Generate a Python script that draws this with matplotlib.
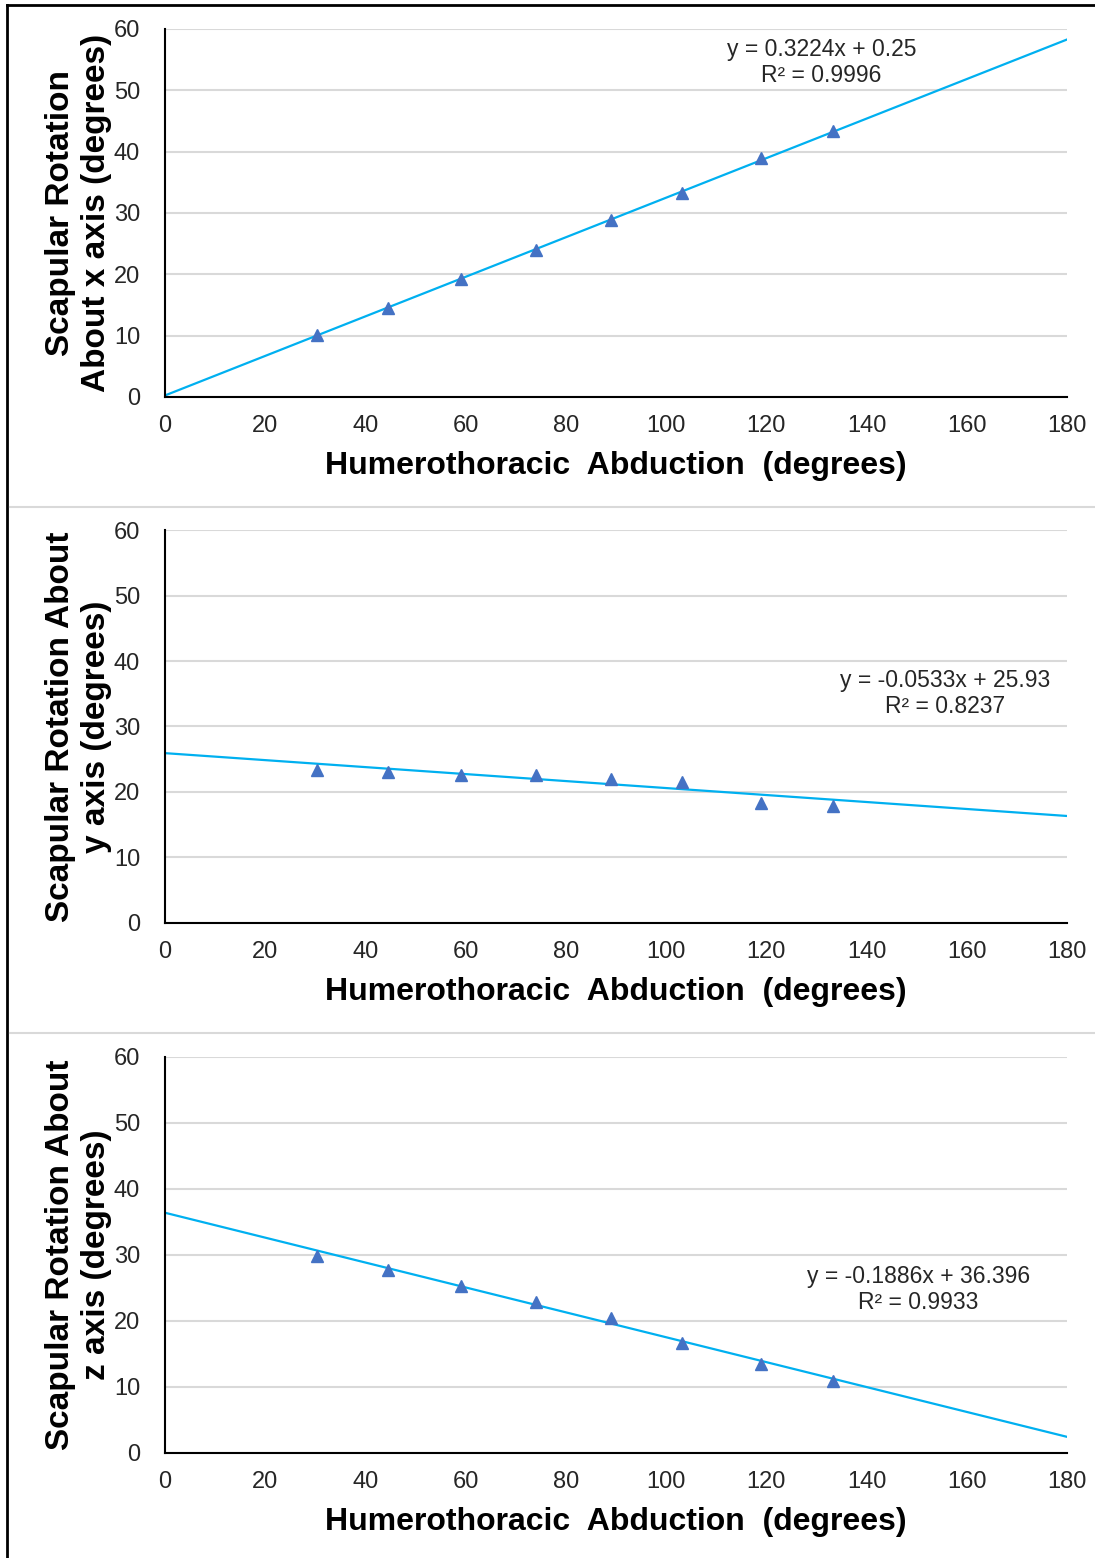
import numpy as np
import matplotlib.pyplot as plt
from matplotlib.lines import Line2D

plt.rcParams['font.family'] = ['Liberation Sans', 'DejaVu Sans']

# humerothoracic abduction (degrees), same for all three panels
abduction = [30.3, 44.5, 59.1, 74.0, 89.0, 103.2, 118.9, 133.3]

rot_x = [10.1, 14.5, 19.2, 24.0, 28.9, 33.3, 39.0, 43.4]
rot_y = [23.4, 23.1, 22.6, 22.6, 22.0, 21.6, 18.3, 17.9]
rot_z = [29.9, 27.7, 25.3, 22.9, 20.5, 16.7, 13.5, 10.9]

slopes = [0.3224, -0.0533, -0.1886]
intercepts = [0.25, 25.93, 36.396]
fit_labels = ["y = 0.3224x + 0.25\nR² = 0.9996",
              "y = -0.0533x + 25.93\nR² = 0.8237",
              "y = -0.1886x + 36.396\nR² = 0.9933"]
ylabels = ["Scapular Rotation\nAbout x axis (degrees)",
           "Scapular Rotation About\ny axis (degrees)",
           "Scapular Rotation About\nz axis (degrees)"]
xlabel = "Humerothoracic  Abduction  (degrees)"

series = [rot_x, rot_y, rot_z]
label_pos = [(131, 54.5), (155.7, 35.0), (150.3, 24.8)]
axes_rects = [[0.1507, 0.7452, 0.8237, 0.2362],
              [0.1507, 0.4076, 0.8237, 0.2522],
              [0.1507, 0.0674, 0.8237, 0.2542]]

fig = plt.figure(figsize=(10.95, 15.58), dpi=100)

for i in range(3):
    ax = fig.add_axes(axes_rects[i])
    xs = np.array([0, 180])
    ax.plot(xs, slopes[i] * xs + intercepts[i], color="#00B0F0", lw=1.6, zorder=2)
    ax.plot(abduction, series[i], linestyle="none", marker="^", markersize=8,
            color="#4472C4", zorder=3)
    ax.set_xlim(0, 180)
    ax.set_ylim(0, 60)
    ax.set_xticks(range(0, 181, 20))
    ax.set_yticks(range(0, 61, 10))
    ax.yaxis.grid(True, color="#d9d9d9", lw=1.5)
    ax.set_axisbelow(True)
    for s in ["top", "right"]:
        ax.spines[s].set_visible(False)
    for s in ["left", "bottom"]:
        ax.spines[s].set_linewidth(1.5)
        ax.spines[s].set_color("black")
    ax.tick_params(length=0, labelsize=17, colors="#262626")
    ax.tick_params(axis="x", pad=13)
    ax.tick_params(axis="y", pad=18)
    ax.set_xlabel(xlabel, fontsize=23, fontweight="bold", labelpad=10)
    ax.set_ylabel(ylabels[i], fontsize=24, fontweight="bold", labelpad=1,
                  linespacing=1.2)
    ax.text(label_pos[i][0], label_pos[i][1], fit_labels[i], fontsize=16.5,
            ha="center", va="center", color="#262626", linespacing=1.15)

# outer frame (left and top) and separators between panels
fig.add_artist(Line2D([7 / 1095, 7 / 1095], [0, 1 - 5 / 1558], transform=fig.transFigure,
                      color="black", lw=2))
fig.add_artist(Line2D([7 / 1095, 1], [1 - 5 / 1558, 1 - 5 / 1558], transform=fig.transFigure,
                      color="black", lw=2))
for yp in [507, 1033]:
    fig.add_artist(Line2D([10 / 1095, 1], [1 - yp / 1558, 1 - yp / 1558],
                          transform=fig.transFigure, color="#d9d9d9", lw=1.5))

fig.savefig("out.png", dpi=100)
